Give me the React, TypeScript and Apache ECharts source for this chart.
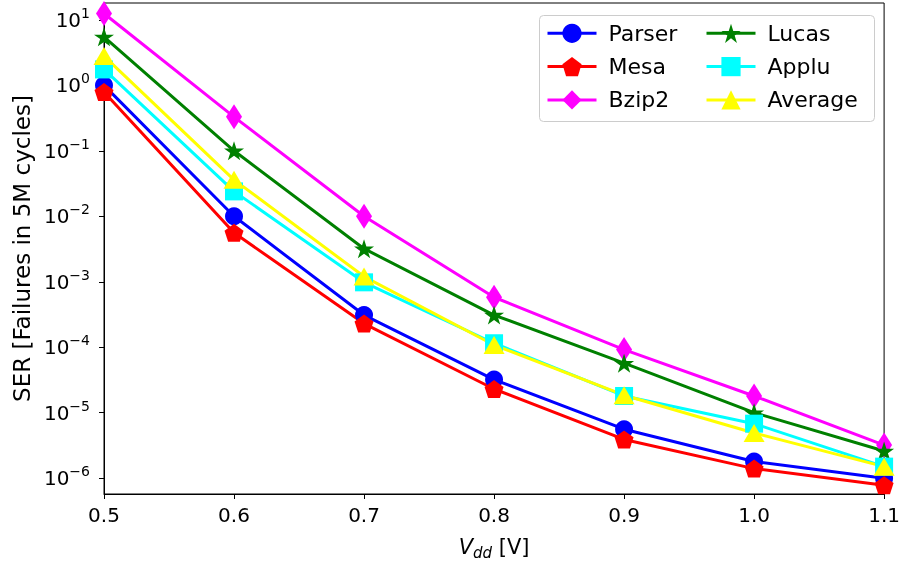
import React, { useEffect, useRef } from "react";
import * as echarts from "echarts";

const voltages = [0.5, 0.6, 0.7, 0.8, 0.9, 1.0, 1.1];
const parser = [1.0, 0.01, 3.1e-4, 3.2e-5, 5.6e-6, 1.8e-6, 1.0e-6];
const mesa = [0.79, 5.6e-3, 2.3e-4, 2.3e-5, 3.9e-6, 1.4e-6, 7.8e-7];
const bzip2 = [12.5, 0.33, 0.01, 5.8e-4, 9.2e-5, 1.8e-5, 3.2e-6];
const lucas = [5.5, 0.1, 3.2e-3, 3.1e-4, 5.7e-5, 1.0e-5, 2.6e-6];
const applu = [1.75, 0.024, 9.8e-4, 1.15e-4, 1.8e-5, 6.8e-6, 1.5e-6];
const average = [2.8, 0.036, 1.2e-3, 1.08e-4, 1.85e-5, 4.9e-6, 1.5e-6];
const yTicks = [1e-6, 1e-5, 1e-4, 1e-3, 1e-2, 1e-1, 1, 10];
const xTicks = [0.5, 0.6, 0.7, 0.8, 0.9, 1.0, 1.1];

const FONT = "DejaVu Sans";
const PENTAGON = "path://M0,-1 L0.951,-0.309 L0.588,0.809 L-0.588,0.809 L-0.951,-0.309 Z";
const STAR =
  "path://M0,-1 L0.2245,-0.309 L0.951,-0.309 L0.363,0.118 L0.588,0.809 L0,0.382 L-0.588,0.809 L-0.363,0.118 L-0.951,-0.309 L-0.2245,-0.309 Z";

const seriesDefs = [
  { name: "Parser", data: parser, color: "#0000ff", symbol: "circle", size: 18 },
  { name: "Mesa", data: mesa, color: "#ff0000", symbol: PENTAGON, size: [19, 18] },
  { name: "Bzip2", data: bzip2, color: "#ff00ff", symbol: "diamond", size: [16, 25] },
  { name: "Lucas", data: lucas, color: "#008000", symbol: STAR, size: [20, 19] },
  { name: "Applu", data: applu, color: "#00ffff", symbol: "rect", size: 18 },
  { name: "Average", data: average, color: "#ffff00", symbol: "triangle", size: [21, 18] },
];

export default function App() {
  const ref = useRef<HTMLDivElement>(null);
  useEffect(() => {
    if (!ref.current) return;
    const chart = echarts.init(ref.current, null, { renderer: "svg" });
    const legendCommon = {
      orient: "vertical" as const,
      padding: 0,
      itemWidth: 49,
      itemHeight: 24,
      itemGap: 9.3,
      lineStyle: { width: 3 },
      textStyle: { fontFamily: FONT, fontSize: 22, color: "#000", padding: [0, 0, 0, 7], lineHeight: 24 },
      z: 5,
    };
    chart.setOption({
      animation: false,
      textStyle: { fontFamily: FONT },
      grid: {
        left: 104,
        right: 17,
        top: 3,
        bottom: 66,
        show: true,
        borderColor: "#000",
        borderWidth: 1,
        containLabel: false,
      },
      graphic: [
        {
          type: "rect",
          z: 3,
          shape: { x: 539.5, y: 15.5, width: 335, height: 106, r: 4 },
          style: { fill: "rgba(255,255,255,0.85)", stroke: "#cccccc", lineWidth: 1 },
        },
      ],
      legend: [
        { ...legendCommon, data: ["Parser", "Mesa", "Bzip2"], left: 546, top: 21.3 },
        { ...legendCommon, data: ["Lucas", "Applu", "Average"], left: 705, top: 21.3 },
      ],
      xAxis: {
        type: "value",
        min: 0.5,
        max: 1.1,
        interval: 0.1,
        splitLine: { show: false },
        axisLine: { lineStyle: { color: "#000", width: 1 } },
        axisTick: { show: true, length: 5, lineStyle: { color: "#000" }, customValues: xTicks },
        axisLabel: {
          color: "#000",
          fontSize: 20,
          fontFamily: FONT,
          margin: 11,
          customValues: xTicks,
          formatter: (v: number) => v.toFixed(1),
        },
        name: "{i|V}{sub|dd} [V]",
        nameLocation: "middle",
        nameGap: 40,
        nameTextStyle: {
          color: "#000",
          fontSize: 21,
          fontFamily: FONT,
          rich: {
            i: { fontStyle: "italic", fontSize: 21, fontFamily: FONT, color: "#000", lineHeight: 26 },
            sub: {
              fontStyle: "italic",
              fontSize: 15,
              fontFamily: FONT,
              color: "#000",
              lineHeight: 16,
              verticalAlign: "bottom",
            },
          },
        },
      },
      yAxis: {
        type: "log",
        logBase: 10,
        min: 5.73e-7,
        max: 18.1,
        splitLine: { show: false },
        axisLine: { show: true, lineStyle: { color: "#000", width: 1 } },
        axisTick: { show: true, length: 5, lineStyle: { color: "#000" }, customValues: yTicks },
        axisLabel: {
          color: "#000",
          margin: 14,
          customValues: yTicks,
          formatter: (v: number) => {
            const e = Math.round(Math.log10(v));
            const s = e < 0 ? "\u2212" + String(-e) : String(e);
            return "{b|10}{s|" + s + "}";
          },
          rich: {
            b: { fontSize: 20, fontFamily: FONT, color: "#000", lineHeight: 28 },
            s: { fontSize: 14, fontFamily: FONT, color: "#000", lineHeight: 16, verticalAlign: "top" },
          },
        },
        name: "SER [Failures in 5M cycles]",
        nameLocation: "middle",
        nameRotate: 90,
        nameGap: 70,
        nameTextStyle: { color: "#000", fontSize: 23, fontFamily: FONT },
      },
      series: seriesDefs.map((s) => ({
        name: s.name,
        type: "line",
        data: voltages.map((x, i) => [x, s.data[i]]),
        symbol: s.symbol,
        symbolSize: s.size,
        showAllSymbol: true,
        clip: true,
        lineStyle: { color: s.color, width: 3 },
        itemStyle: { color: s.color, borderWidth: 0 },
        emphasis: { disabled: true },
      })),
    });
    return () => chart.dispose();
  }, []);
  return <div ref={ref} style={{ position: "fixed", left: 0, top: 0, width: 903, height: 565 }} />;
}
